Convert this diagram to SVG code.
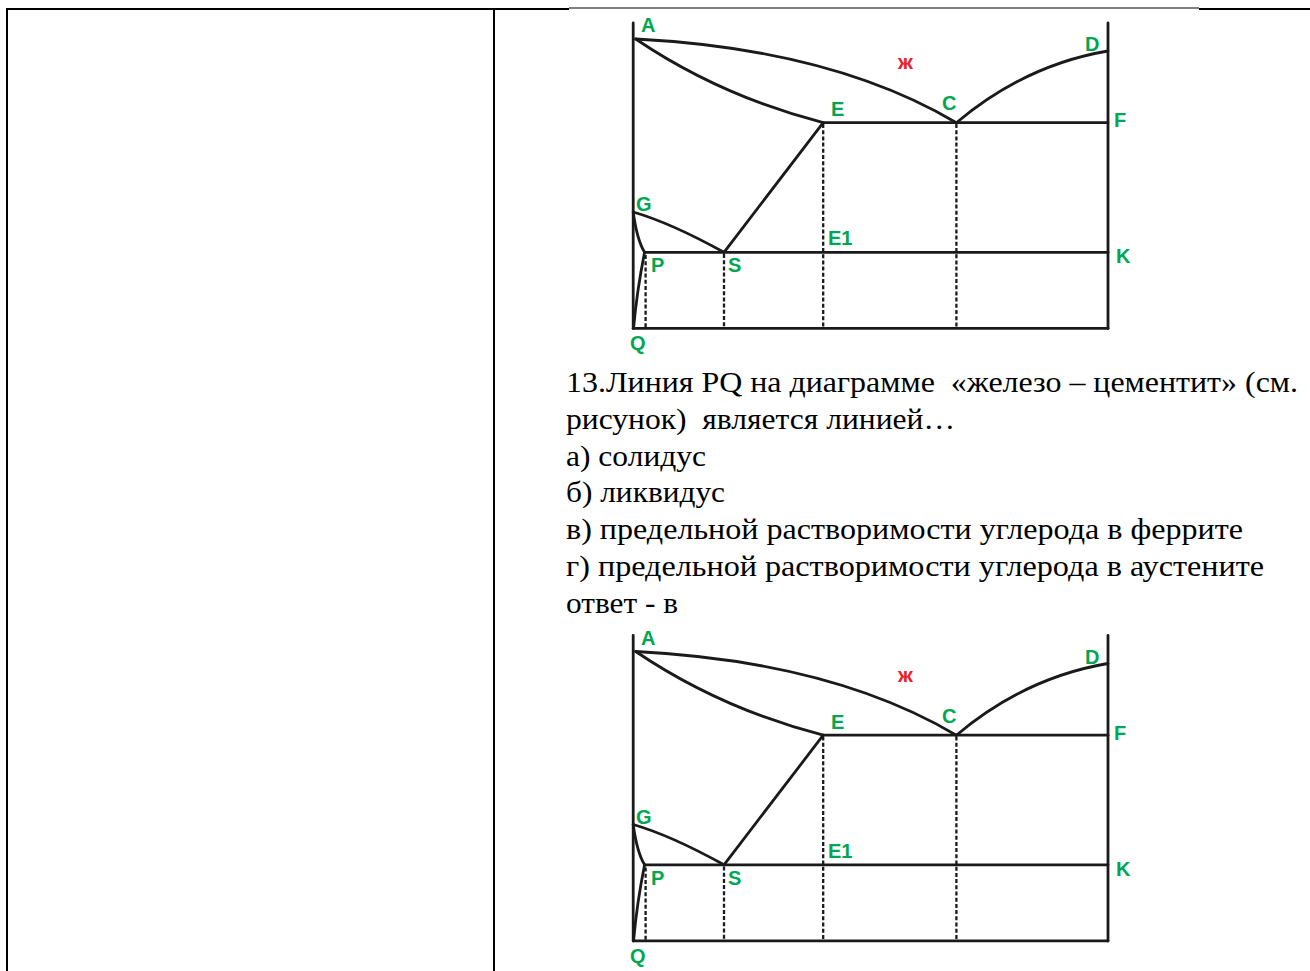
<svg xmlns="http://www.w3.org/2000/svg" xmlns:xlink="http://www.w3.org/1999/xlink" width="1310" height="971" viewBox="0 0 1310 971">
<style>
.tb{stroke:#000;stroke-width:2;fill:none}
.ln{stroke:#1a1a1a;stroke-width:2.8;fill:none;stroke-linecap:round;stroke-linejoin:round}
.dt{stroke:#1a1a1a;stroke-width:2.3;fill:none;stroke-dasharray:4 2.2}
.lb{font-family:"Liberation Sans",Arial,sans-serif;font-weight:bold;font-size:20px;fill:#00A651}
.lq{font-family:"Liberation Sans",Arial,sans-serif;font-weight:bold;font-size:21px;fill:#E8232A}
.tx{font-family:"Liberation Serif","Times New Roman",serif;font-size:30px;fill:#000}
</style>
<defs>
<g id="fe-c">
  <g id="connectors">
    <path class="ln" d="M633.2,23 V328.5"/>
    <path class="ln" d="M1108,23 V328.5"/>
    <path class="ln" d="M633.2,328.3 H1108"/>
    <path class="ln" d="M635.7,39 Q832,49 956.4,122.7"/>
    <path class="ln" d="M635.7,39 Q720,96 823.2,122.7"/>
    <path class="ln" d="M956.4,122.7 Q1025,65 1107.9,51"/>
    <path class="ln" d="M823.2,122.7 H1108"/>
    <path class="ln" d="M823.2,122.7 L724,252.3"/>
    <path class="ln" d="M633.2,212 Q671,223 724,252.3"/>
    <path class="ln" d="M633.2,212 Q637,240 644.6,252.3"/>
    <path class="ln" d="M644.6,252.3 H1108"/>
    <path class="ln" d="M644.6,252.3 Q637,290 633.6,328"/>
    <path class="dt" d="M645.6,255 V328"/>
    <path class="dt" d="M724,254 V328"/>
    <path class="dt" d="M823.2,124 V328"/>
    <path class="dt" d="M956.4,124 V328"/>
  </g>
  <g id="labels">
    <text class="lb" x="641" y="32">A</text>
    <text class="lb" x="1085" y="51">D</text>
    <text class="lq" x="898" y="69">ж</text>
    <text class="lb" x="831" y="116">E</text>
    <text class="lb" x="942" y="110">C</text>
    <text class="lb" x="1114" y="127">F</text>
    <text class="lb" x="636" y="211">G</text>
    <text class="lb" x="828" y="245">E1</text>
    <text class="lb" x="1116" y="263">K</text>
    <text class="lb" x="651" y="272">P</text>
    <text class="lb" x="728" y="272">S</text>
    <text class="lb" x="630" y="350">Q</text>
  </g>
</g>
</defs>
<rect width="1310" height="971" fill="#fff"/>
<g id="table">
  <path class="tb" d="M6,9 H569"/>
  <path class="tb" d="M569,8 H1199" style="stroke-width:1.2"/>
  <path class="tb" d="M1199,9 H1310"/>
  <path class="tb" d="M7,8 V971"/>
  <path class="tb" d="M494,8 V971"/>
</g>
<g id="diagram-top">
  <use xlink:href="#fe-c"/>
</g>
<g id="question">
  <text class="tx" x="566" y="392" textLength="732" lengthAdjust="spacingAndGlyphs" xml:space="preserve">13.Линия PQ на диаграмме  «железо – цементит» (см.</text>
  <text class="tx" x="566" y="429" textLength="389" lengthAdjust="spacingAndGlyphs" xml:space="preserve">рисунок)  является линией…</text>
  <text class="tx" x="566" y="465.5" textLength="140" lengthAdjust="spacingAndGlyphs">а) солидус</text>
  <text class="tx" x="566" y="502" textLength="159" lengthAdjust="spacingAndGlyphs">б) ликвидус</text>
  <text class="tx" x="566" y="539" textLength="677" lengthAdjust="spacingAndGlyphs">в) предельной растворимости углерода в феррите</text>
  <text class="tx" x="566" y="576" textLength="698" lengthAdjust="spacingAndGlyphs">г) предельной растворимости углерода в аустените</text>
  <text class="tx" x="566" y="613" textLength="112" lengthAdjust="spacingAndGlyphs">ответ - в</text>
</g>
<g id="diagram-bottom" transform="translate(0,612.5)">
  <use xlink:href="#fe-c"/>
</g>
</svg>
